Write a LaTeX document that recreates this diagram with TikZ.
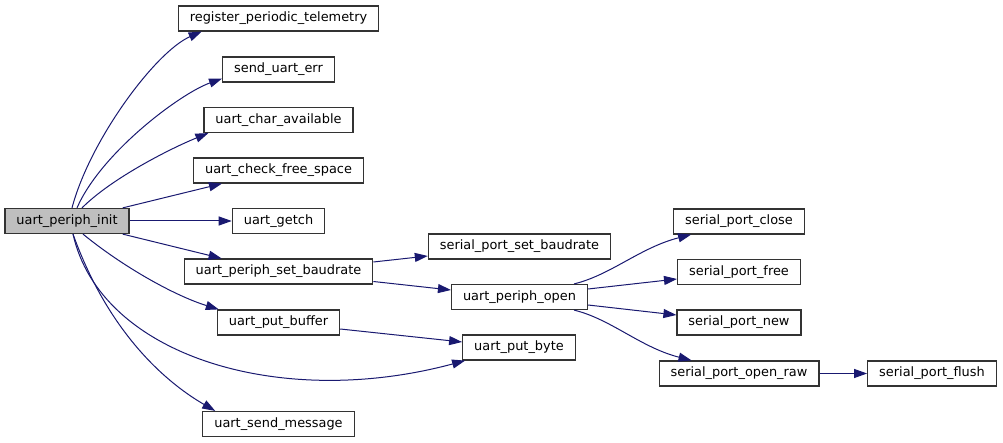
\documentclass[tikz,border=0pt]{standalone}
\usepackage{fontspec}
\setmainfont{DejaVu Sans}
\usepackage{tikz}
\usetikzlibrary{
  % filled triangle tips
  arrows.meta
}
\definecolor{callblue}{HTML}{191970}
\definecolor{boxline}{HTML}{333333}
\definecolor{rootgray}{HTML}{BFBFBF}
\tikzset{>={Triangle[length=13pt,width=9pt]}}
\tikzset{font=\fontsize{12.9}{15}\selectfont}
\tikzset{fnbox/.style={draw=boxline, line width=1.2pt, fill=white,
    inner xsep=11.5pt, inner ysep=0pt, minimum height=25pt,
    text height=9.6pt, text depth=2.9pt}}
\tikzset{rootbox/.style={fnbox, fill=rootgray}}
\tikzset{call/.style={->, color=callblue, line width=1pt}}
\begin{document}
\begin{tikzpicture}[x=1pt, y=-1pt]
      \useasboundingbox (0,0) rectangle (1003,443);%
      % caller
      \node[rootbox] (periphinit) at (67,221) {uart\_periph\_init};%
      % first column of callees
      \node[fnbox] (telemetry) at (278.5,18.5) {register\_periodic\_telemetry};%
      \node[fnbox] (senderr) at (278.5,69.5) {send\_uart\_err};%
      \node[fnbox] (charavail) at (278.5,120) {uart\_char\_available};%
      \node[fnbox] (freespace) at (278.5,170.5) {uart\_check\_free\_space};%
      \node[fnbox] (getch) at (278.5,221) {uart\_getch};%
      \node[fnbox] (setbaud) at (278.5,271.5) {uart\_periph\_set\_baudrate};%
      \node[fnbox] (putbuffer) at (278.5,322.5) {uart\_put\_buffer};%
      \node[fnbox] (sendmsg) at (278.5,424) {uart\_send\_message};%
      % second column
      \node[fnbox] (serialbaud) at (519.5,246.5) {serial\_port\_set\_baudrate};%
      \node[fnbox] (periphopen) at (519.5,297) {uart\_periph\_open};%
      \node[fnbox] (putbyte) at (519,347.5) {uart\_put\_byte};%
      % serial port calls
      \node[fnbox] (portclose) at (739,221.5) {serial\_port\_close};%
      \node[fnbox] (portfree) at (739,272) {serial\_port\_free};%
      \node[fnbox] (portnew) at (739,322.5) {serial\_port\_new};%
      \node[fnbox] (openraw) at (739,373.5) {serial\_port\_open\_raw};%
      \node[fnbox] (portflush) at (932,373.5) {serial\_port\_flush};%
      % calls out of uart_periph_init
      \draw[call] ([xshift=5pt]periphinit.north) .. controls +(18,-68) and +(-46,20) .. ([xshift=24pt]telemetry.south west);%
      \draw[call] ([xshift=10pt]periphinit.north) .. controls +(24,-55) and +(-42,15) .. ([yshift=4pt]senderr.south west);%
      \draw[call] ([xshift=15pt]periphinit.north) .. controls +(30,-30) and +(-37,15) .. ([xshift=5pt]charavail.south west);%
      \draw[call] ([xshift=-7pt]periphinit.north east) -- ([xshift=29pt]freespace.south west);%
      \draw[call] (periphinit.east) -- (getch.west);%
      \draw[call] ([xshift=-7pt]periphinit.south east) -- ([xshift=38pt]setbaud.north west);%
      \draw[call] ([xshift=16pt]periphinit.south) .. controls +(39,32) and +(-45,-14) .. ([xshift=2pt]putbuffer.north west);%
      \draw[call] ([xshift=6pt]periphinit.south) .. controls +(27,121) and +(-186,50) .. ([xshift=3pt]putbyte.south west);%
      \draw[call] ([xshift=6pt]periphinit.south) .. controls +(37,103) and +(-45,-26) .. ([xshift=13pt]sendmsg.north west);%
      % second level
      \draw[call] ([yshift=9.5pt]setbaud.east) -- ([yshift=-9.5pt]serialbaud.west);%
      \draw[call] ([yshift=-10pt]setbaud.east) -- ([yshift=7pt]periphopen.west);%
      \draw[call] ([yshift=-6.5pt]putbuffer.east) -- ([yshift=5.5pt]putbyte.west);%
      \draw[call] ([xshift=-14pt]periphopen.north east) .. controls +(37,-9) and +(-51,13) .. ([xshift=18pt]portclose.south west);%
      \draw[call] ([yshift=8pt]periphopen.east) -- ([yshift=-7pt]portfree.west);%
      \draw[call] ([yshift=-8pt]periphopen.east) -- ([yshift=7.5pt]portnew.west);%
      \draw[call] ([xshift=-14pt]periphopen.south east) .. controls +(37,9) and +(-51,-13) .. ([xshift=33pt]openraw.north west);%
      \draw[call] (openraw.east) -- (portflush.west);%
    \end{tikzpicture}
\end{document}
